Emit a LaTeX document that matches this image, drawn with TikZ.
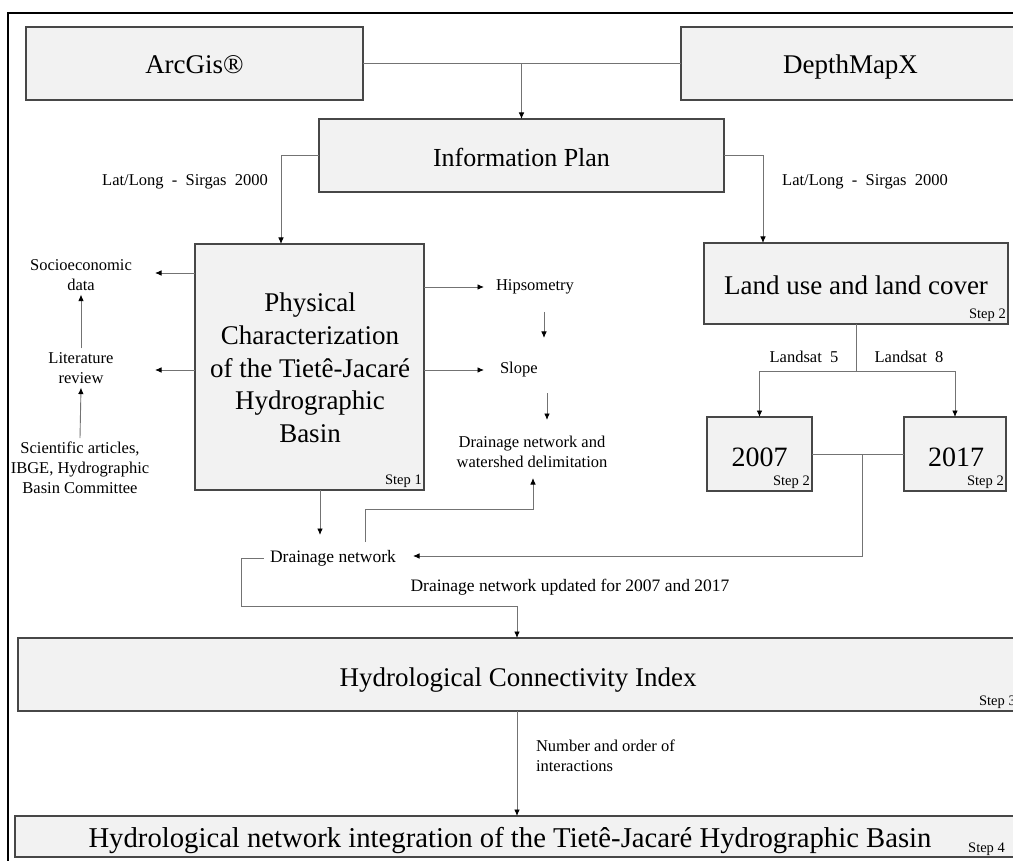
\documentclass[tikz,border=0pt]{standalone}
\usepackage{fontspec}
\setmainfont{Liberation Serif}
\usetikzlibrary{arrows.meta}
\begin{document}
\begin{tikzpicture}[x=1pt,y=-1pt,
  box/.style={draw=black!72, fill=gray!10, line width=1.3pt, inner sep=0pt, outer sep=0pt, anchor=north west, text height=21pt, text depth=0pt},
  big/.style={font=\fontsize{27}{32}\selectfont},
  lbl/.style={font=\fontsize{16.5}{20}\selectfont, inner sep=0pt, outer sep=4pt, align=center},
  mid/.style={font=\fontsize{17.5}{21}\selectfont, inner sep=0pt},
  steplbl/.style={font=\fontsize{14.5}{16}\selectfont, inner sep=2pt, anchor=south east},
  conn/.style={draw=black!55, line width=0.9pt},
  arr/.style={conn, -{Latex[length=6.5pt,width=5.5pt,black]}},
]
\useasboundingbox (0,0) rectangle (1013,861);
\draw[line width=1.4pt] (8,861) -- (8,13) -- (1013,13);

% boxes
\node[box, big, minimum width=337pt, minimum height=73pt] (arc) at (26,27) {ArcGis®};
\node[box, big, minimum width=339pt, minimum height=73pt] (dmx) at (681,27) {DepthMapX};
\node[box, font=\fontsize{26}{30}\selectfont, minimum width=405pt, minimum height=73pt, text height=22pt] (info) at (319,119) {Information Plan};
\node[box, minimum width=229pt, minimum height=246pt] (phys) at (195,244) {};
\node[align=center, font=\fontsize{27}{32.7}\selectfont, inner sep=0pt] (phystxt) at (310,368) {Physical\\Characterization\\of the Tietê-Jacaré\\Hydrographic\\Basin};
\node[steplbl] (s1) at (phys.south east) {Step 1};
\node[box, big, minimum width=304pt, minimum height=81pt, text height=23pt] (land) at (704,243) {Land use and land cover};
\node[steplbl] (s2a) at (land.south east) {Step 2};
\node[box, minimum width=105pt, minimum height=74pt] (y2007) at (707,417) {};
\node[anchor=base, inner sep=0pt, font=\fontsize{28}{30}\selectfont] (t2007) at (759.5,466) {2007};
\node[steplbl] (s2b) at (y2007.south east) {Step 2};
\node[box, minimum width=102pt, minimum height=74pt] (y2017) at (904,417) {};
\node[anchor=base, inner sep=0pt, font=\fontsize{28}{30}\selectfont] (t2017) at (956,466) {2017};
\node[steplbl] (s2c) at (y2017.south east) {Step 2};
\node[box, big, minimum width=1000pt, minimum height=73pt, text height=24pt] (hci) at (18,638) {Hydrological Connectivity Index};
\node[steplbl] (s3) at (hci.south east) {Step 3};
\node[box, minimum width=1010pt, minimum height=41pt] (fin) at (15,816) {};
\node[font=\fontsize{28.7}{32}\selectfont, anchor=base, inner sep=0pt] (tfin) at (510,847) {Hydrological network integration of the Tietê-Jacaré Hydrographic Basin};
\node[font=\fontsize{14.5}{16}\selectfont, anchor=base west, inner sep=0pt] (s4) at (968,852) {Step 4};

% helper coordinates
\coordinate (x281) at (281,0);
\coordinate (x763) at (763,0);
\coordinate (x320) at (320,0);
\coordinate (x517) at (517,0);

% top connectors
\draw[conn] (arc.east) -- (dmx.west);
\draw[arr] (arc.east -| info.north) -- (info.north);
\draw[arr] (info.west) -| (phys.north -| x281);
\draw[arr] (info.east) -| (land.north -| x763);
\node[lbl] (ll1) at (185,182) {Lat/Long \ - \ Sirgas \ 2000};
\node[lbl] (ll2) at (865,182) {Lat/Long \ - \ Sirgas \ 2000};

% left side
\node[lbl] (soc) at (81,275) {Socioeconomic\\data};
\node[lbl] (lit) at (81,368) {Literature\\review};
\node[lbl] (sci) at (80,468) {Scientific articles,\\IBGE, Hydrographic\\Basin Committee};
\coordinate (socE) at (155,273);
\coordinate (litE) at (155,370);
\draw[arr] (phys.west |- socE) -- (socE);
\draw[arr] (phys.west |- litE) -- (litE);
\draw[arr] (lit.north) -- (soc.south);
\draw[arr] (sci.north) -- (lit.south);

% right of physical
\node[lbl, anchor=west, outer sep=0pt] (hip) at (496,287) {Hipsometry};
\node[lbl, anchor=west, outer sep=0pt] (slope) at (500,370) {Slope};
\node[lbl] (ws) at (532,452) {Drainage network and\\watershed delimitation};
\coordinate (hipE) at (484,287);
\coordinate (slopeE) at (484,370);
\draw[arr] (phys.east |- hipE) -- (hipE);
\draw[arr] (phys.east |- slopeE) -- (slopeE);
\coordinate (a1) at (544,312);
\coordinate (a2) at (544,338);
\coordinate (a3) at (547,393);
\coordinate (a4) at (547,420);
\draw[arr] (a1) -- (a2);
\draw[arr] (a3) -- (a4);

% drainage network
\node[mid] (dn) at (333,558) {Drainage network};
\coordinate (dnTop) at (320,535);
\draw[arr] (phys.south -| x320) -- (dnTop);
\coordinate (b1) at (365,542);
\coordinate (b2) at (533,478);
\draw[arr] (b1) |- (533,509) -- (b2);

% land use branches
\draw[conn] (land.south) -- ++(0,47) coordinate (lsplit);
\draw[arr] (lsplit) -| (y2007.north);
\draw[arr] (lsplit) -| (y2017.north);
\node[lbl] (ls5) at (804,357) {Landsat \ 5};
\node[lbl] (ls8) at (909,357) {Landsat \ 8};
\draw[conn] (y2007.east |- 0,454) -- (y2017.west |- 0,454);
\coordinate (c1) at (862,454);
\coordinate (dnE) at (413,556);
\draw[arr] (c1) |- (dnE);

% to HCI
\draw[arr] ([xshift=-6pt]dn.west) -| (241,606) -| (hci.north -| x517);
\node[mid] (upd) at (570,587) {Drainage network updated for 2007 and 2017};

% HCI to final
\draw[arr] (hci.south -| x517) -- (fin.north -| x517);
\node[lbl, align=left, anchor=north west, outer sep=0pt] (noi) at (536,740) {Number and order of\\interactions};
\end{tikzpicture}
\end{document}
